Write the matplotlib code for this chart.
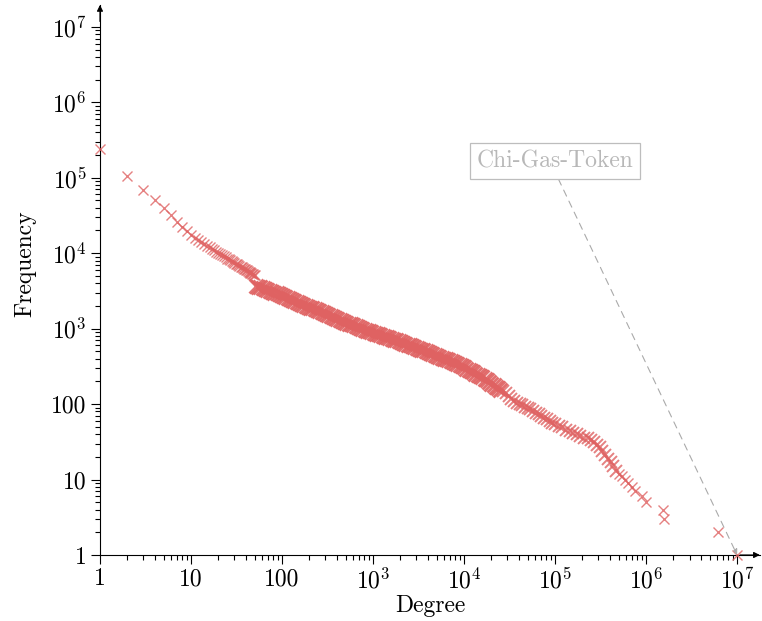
import numpy as np
import matplotlib.pyplot as plt
from matplotlib.ticker import FixedLocator, LogLocator, NullFormatter

plt.rcParams['font.family'] = 'cmr10'
plt.rcParams['mathtext.fontset'] = 'cm'
plt.rcParams['axes.formatter.use_mathtext'] = True

# degree values and how often they occur
degree_low = list(range(1, 51))
freq_low = [240000, 105000, 68000, 51000, 40000, 32000, 26000, 22000, 19500, 17400,
            16000, 15000, 14000, 13200, 12500, 11900, 11400, 10900, 10500, 10100,
            9700, 9400, 9100, 8800, 8500, 8300, 8050, 7850, 7650, 7450,
            7250, 7100, 6950, 6800, 6650, 6500, 6380, 6250, 6130, 6020,
            5900, 5800, 5700, 5600, 5520, 5430, 5350, 5270, 5190, 5110]

degree_mid = [52, 55, 58, 62, 65, 69, 73, 77, 82, 87, 92, 97, 103, 109, 115, 122, 129,
              137, 145, 154, 163, 172, 182, 193, 204, 216, 229, 243, 257, 272, 288,
              305, 323, 342, 362, 383, 406, 430, 455, 482, 510, 540, 572, 606, 642,
              680, 720, 762, 807, 855, 905, 958, 1015, 1075, 1138, 1205, 1276, 1351,
              1431, 1515, 1604, 1699, 1799, 1905, 2017, 2136, 2262, 2395, 2536, 2686,
              2844, 3012, 3190, 3378, 3577, 3788, 4011, 4248, 4498, 4763, 5044, 5341,
              5656, 5990, 6343, 6717, 7113, 7532, 7976, 8447, 8945, 9472, 10031,
              10622, 11249, 11912, 12614, 13358, 14146, 14980, 15864, 16799, 17790,
              18839, 19950, 21127, 22373, 23692, 25090]
freq_mid = [3715, 3614, 3524, 3428, 3342, 3251, 3162, 3083, 2999, 2924, 2844, 2773,
            2692, 2618, 2541, 2472, 2399, 2333, 2265, 2203, 2138, 2080, 2018, 1963,
            1905, 1854, 1799, 1750, 1698, 1652, 1603, 1560, 1514, 1472, 1429, 1390,
            1349, 1312, 1274, 1239, 1202, 1169, 1135, 1104, 1072, 1042, 1015, 990,
            965, 942, 920, 900, 880, 860, 840, 820, 802, 784, 766, 748, 731, 714,
            697, 680, 663, 647, 631, 615, 600, 585, 570, 556, 542, 528, 515, 502,
            489, 476, 463, 450, 437, 425, 413, 401, 390, 379, 368, 357, 347, 337,
            327, 317, 306, 295, 284, 274, 264, 254, 245, 236, 227, 216, 206, 196,
            187, 178, 170, 162, 155]

degree_hatch = [26900, 28800, 30900, 33100, 35500, 38000, 40700, 43600, 46800, 50100,
                53700, 57500, 61700, 66100, 70800, 75900, 81300, 87100, 93300, 100000,
                110000, 120000, 132000, 145000, 158000, 174000, 190000, 209000, 229000,
                251000, 269000, 288000, 309000, 331000, 355000, 380000, 407000, 437000,
                468000]
freq_hatch = [150, 140, 128, 118, 110, 104, 100, 96, 92, 89,
              85, 81, 77, 73, 70, 66, 63, 60, 57, 55,
              52, 49, 46, 44, 42, 40, 38, 36, 35,
              33, 31, 29, 27, 24, 21, 19, 17, 15,
              13]

degree_end = [501000, 550000, 589000, 631000, 692000, 759000, 891000, 1000000,
              1550000, 1560000, 6200000, 10000000]
freq_end = [12, 11, 10, 9, 8, 7, 6, 5, 4, 3, 2, 1]

tick_vals = [1, 10, 100, 1e3, 1e4, 1e5, 1e6, 1e7]
tick_labels = ['1', '10', '100', '$10^{3}$', '$10^{4}$', '$10^{5}$', '$10^{6}$', '$10^{7}$']

red = '#df6262'

fig = plt.figure(figsize=(7.62, 6.21), dpi=100)
ax = fig.add_axes([0.1312, 0.1063, 0.866, 0.8857])

# sparse ends: single crosses; dense middle: crosses overlap into a solid band
ax.plot(degree_low + degree_end, freq_low + freq_end, linestyle='none', marker='x',
        markersize=7, markeredgewidth=1.0, color=red, alpha=0.8, clip_on=False, zorder=3)
ax.plot(degree_hatch, freq_hatch, linestyle='none', marker='x',
        markersize=9, markeredgewidth=1.4, color=red, alpha=0.8, clip_on=False, zorder=3)
ax.plot(degree_mid, freq_mid, linestyle='none', marker='x',
        markersize=10, markeredgewidth=2.0, color=red, alpha=0.9, clip_on=False, zorder=3)

ax.set_xscale('log')
ax.set_yscale('log')
ax.set_xlim(1, 10 ** 7.25)
ax.set_ylim(1, 10 ** 7.29)

for axis in (ax.xaxis, ax.yaxis):
    axis.set_major_locator(FixedLocator(tick_vals))
    axis.set_minor_locator(LogLocator(base=10, subs=np.arange(2, 10)))
    axis.set_minor_formatter(NullFormatter())
ax.set_xticklabels(tick_labels)
ax.set_yticklabels(tick_labels)

ax.tick_params(which='major', direction='out', length=6.5, width=0.8, labelsize=17, pad=3)
ax.tick_params(which='minor', direction='out', length=3.5, width=0.8)

ax.spines['top'].set_visible(False)
ax.spines['right'].set_visible(False)
ax.spines['left'].set_linewidth(0.8)
ax.spines['bottom'].set_linewidth(0.8)

# arrow heads at the axis ends
ax.annotate('', xy=(1.0, 0), xytext=(0.97, 0), xycoords='axes fraction',
            arrowprops=dict(arrowstyle='-|>', color='black', lw=0.8, mutation_scale=9,
                            shrinkA=0, shrinkB=0))
ax.annotate('', xy=(0, 1.0), xytext=(0, 0.97), xycoords='axes fraction',
            arrowprops=dict(arrowstyle='-|>', color='black', lw=0.8, mutation_scale=9,
                            shrinkA=0, shrinkB=0))

ax.set_xlabel('Degree', fontsize=17, labelpad=1)
ax.set_ylabel('Frequency', fontsize=17)
ax.yaxis.set_label_coords(-0.097, 0.53)

ax.annotate('Chi-Gas-Token', xy=(1e7, 1), xytext=(1e5, 1.67e5),
            fontsize=17, color='#b8b8b8', ha='center', va='center',
            bbox=dict(boxstyle='square,pad=0.28', fc='white', ec='#bdbdbd', lw=0.9),
            arrowprops=dict(arrowstyle='-|>', color='#aaaaaa', lw=0.8, linestyle=(0, (6, 5)),
                            mutation_scale=8, shrinkA=0, shrinkB=0, relpos=(0.5, 0)),
            zorder=4)

fig.savefig('out.png', dpi=100)
